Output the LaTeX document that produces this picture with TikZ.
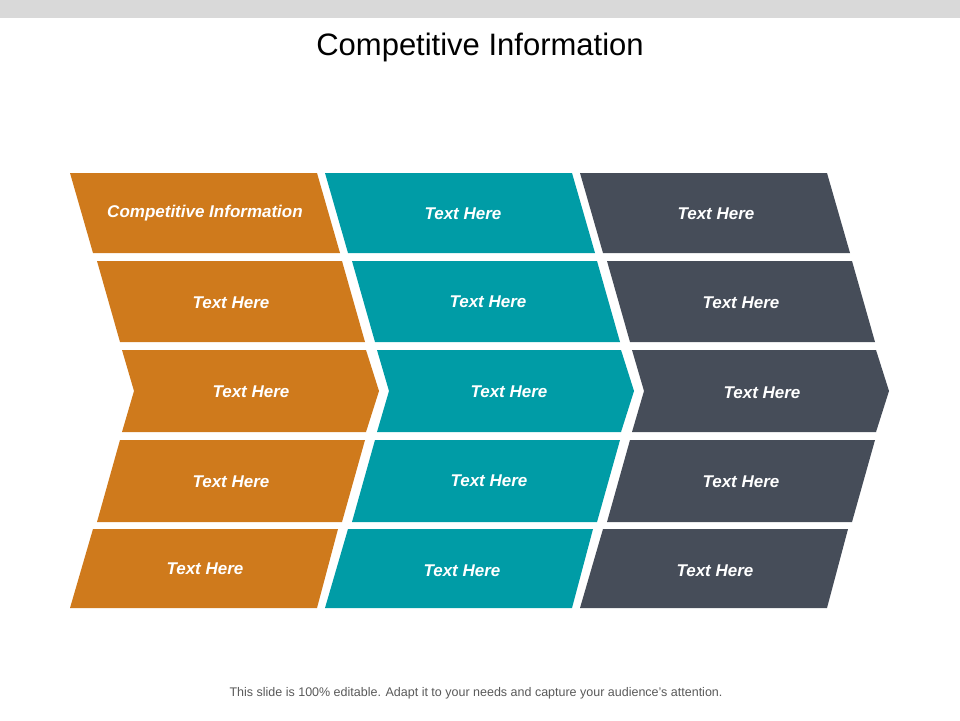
\documentclass[tikz,border=0pt]{standalone}
\usepackage{fontspec}
\setmainfont{Liberation Sans}
\definecolor{corange}{HTML}{CF7A1C}
\definecolor{cteal}{HTML}{009CA6}
\definecolor{cdark}{HTML}{464D59}
\definecolor{cband}{HTML}{D9D9D9}
\definecolor{cfoot}{HTML}{595959}
\begin{document}
\begin{tikzpicture}[x=1pt,y=-1pt,
  lbl/.style={text=white,font=\fontsize{17}{20}\selectfont\bfseries\itshape},
  title/.style={font=\fontsize{31}{36}\selectfont},
  foot/.style={text=cfoot,font=\fontsize{12.5}{15}\selectfont}]
\useasboundingbox (0,0) rectangle (960,720);
\fill[cband] (0,0) rectangle (960,18);
\node[title] (t) at (480,47) {Competitive Information};
\node[foot] (f) at (476,693) {This slide is 100\% editable. Adapt it to your needs and capture your audience's attention.};
\foreach \c/\col in {0/corange,1/cteal,2/cdark}{
  \pgfmathsetmacro{\dx}{255*\c}
  \begin{scope}[xshift=\dx]
    \fill[\col] (70,173) -- (317,173) -- (340,253) -- (93,253) -- cycle;
    \fill[\col] (97,261) -- (342,261) -- (365,342) -- (120,342) -- cycle;
    \fill[\col] (122,350) -- (366,350) -- (379,391) -- (366,432) -- (122,432) -- (134,391) -- cycle;
    \fill[\col] (120,440) -- (365,440) -- (342,522) -- (97,522) -- cycle;
    \fill[\col] (93,529) -- (338,529) -- (317,608) -- (70,608) -- cycle;
  \end{scope}
}
\node[lbl] (a1) at (205,213) {Competitive Information};
\node[lbl] (b1) at (463,214) {Text Here};
\node[lbl] (c1) at (716,214) {Text Here};
\node[lbl] (a2) at (231,303) {Text Here};
\node[lbl] (b2) at (488,302) {Text Here};
\node[lbl] (c2) at (741,303) {Text Here};
\node[lbl] (a3) at (251,392) {Text Here};
\node[lbl] (b3) at (509,392) {Text Here};
\node[lbl] (c3) at (762,393) {Text Here};
\node[lbl] (a4) at (231,482) {Text Here};
\node[lbl] (b4) at (489,481) {Text Here};
\node[lbl] (c4) at (741,482) {Text Here};
\node[lbl] (a5) at (205,569) {Text Here};
\node[lbl] (b5) at (462,571) {Text Here};
\node[lbl] (c5) at (715,571) {Text Here};
\end{tikzpicture}
\end{document}
